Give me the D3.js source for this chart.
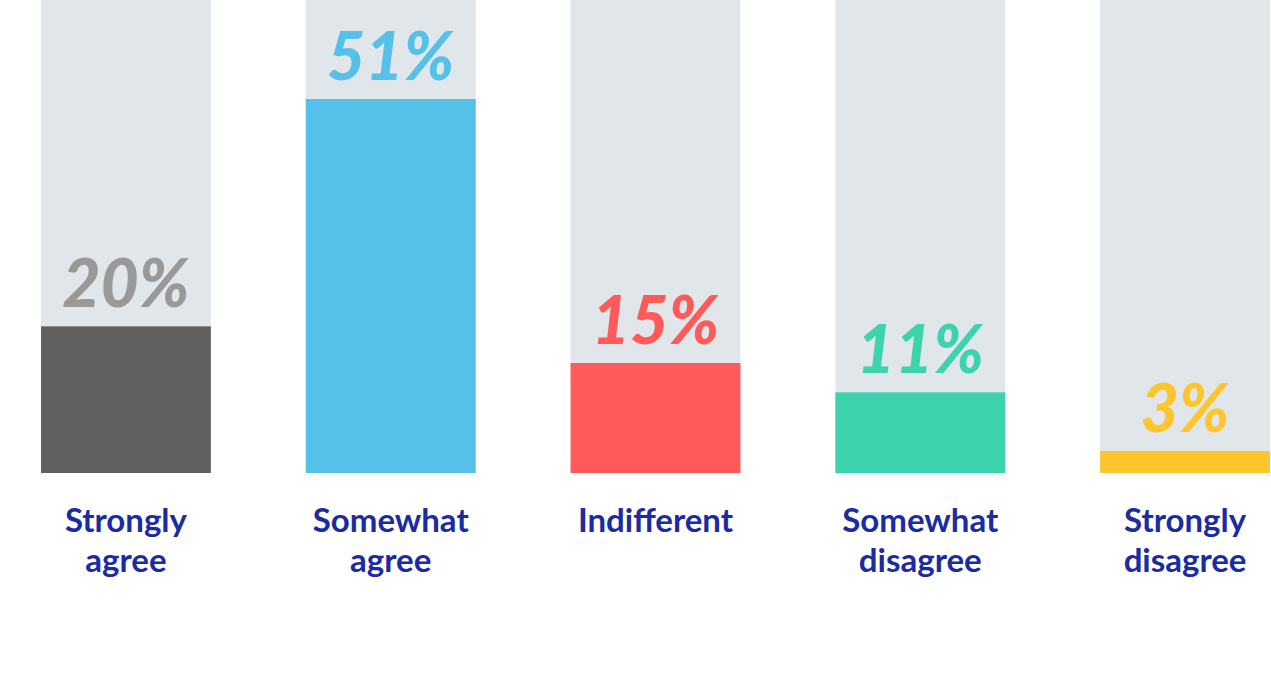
<!DOCTYPE html>
<html>
<head>
<meta charset="utf-8">
<script src="https://cdn.jsdelivr.net/npm/d3@7"></script>
<style>
  body { margin: 0; background: #fff; }
  svg { display: block; }
</style>
</head>
<body>
<svg id="chart" width="1271" height="694"></svg>
<script>
var categories = [['Strongly', 'agree'], ['Somewhat', 'agree'], ['Indifferent'], ['Somewhat', 'disagree'], ['Strongly', 'disagree']]
var values = [20, 51, 15, 11, 3]
var barColors = ['#606060', '#55c0e8', '#ff5a5a', '#3dd3ae', '#ffc52c']
var labelColors = ['#999999', '#55c0e8', '#ff5a5a', '#3dd3ae', '#ffc52c']

var svg = d3.select('#chart')

var x = d3.scaleBand()
          .domain(d3.range(values.length))
          .range([41, 1270])
          .paddingInner(95 / 265)
          .paddingOuter(0)

var y = d3.scaleLinear()
          .domain([0, 64.5])
          .range([473, 0])

// gray track behind each bar
svg.append('g')
   .selectAll('rect')
   .data(values)
   .enter()
   .append('rect')
   .attr('x', (d, i) => x(i))
   .attr('width', x.bandwidth())
   .attr('y', y(64.5))
   .attr('height', y(0) - y(64.5))
   .attr('fill', '#e1e6ea')

svg.append('g')
   .selectAll('rect')
   .data(values)
   .enter()
   .append('rect')
   .attr('x', (d, i) => x(i))
   .attr('width', x.bandwidth())
   .attr('y', d => y(d))
   .attr('height', d => y(0) - y(d))
   .attr('fill', (d, i) => barColors[i])

svg.append('g')
   .selectAll('text')
   .data(values)
   .enter()
   .append('text')
   .attr('x', (d, i) => x(i) + x.bandwidth() / 2)
   .attr('y', d => y(d) - 19)
   .attr('text-anchor', 'middle')
   .attr('font-family', 'Lato')
   .attr('font-weight', 900)
   .attr('font-style', 'italic')
   .attr('font-size', 66)
   .attr('fill', (d, i) => labelColors[i])
   .text(d => d + '%')

var cat = svg.append('g')
   .selectAll('text')
   .data(categories)
   .enter()
   .append('text')
   .attr('x', (d, i) => x(i) + x.bandwidth() / 2)
   .attr('y', 532)
   .attr('text-anchor', 'middle')
   .attr('font-family', 'Lato')
   .attr('font-weight', 700)
   .attr('font-size', 33)
   .attr('fill', '#1a2ba3')

cat.selectAll('tspan')
   .data(d => d)
   .enter()
   .append('tspan')
   .attr('x', function () { return d3.select(this.parentNode).attr('x') })
   .attr('dy', (d, i) => i === 0 ? 0 : 40)
   .text(d => d)
</script>
</body>
</html>
